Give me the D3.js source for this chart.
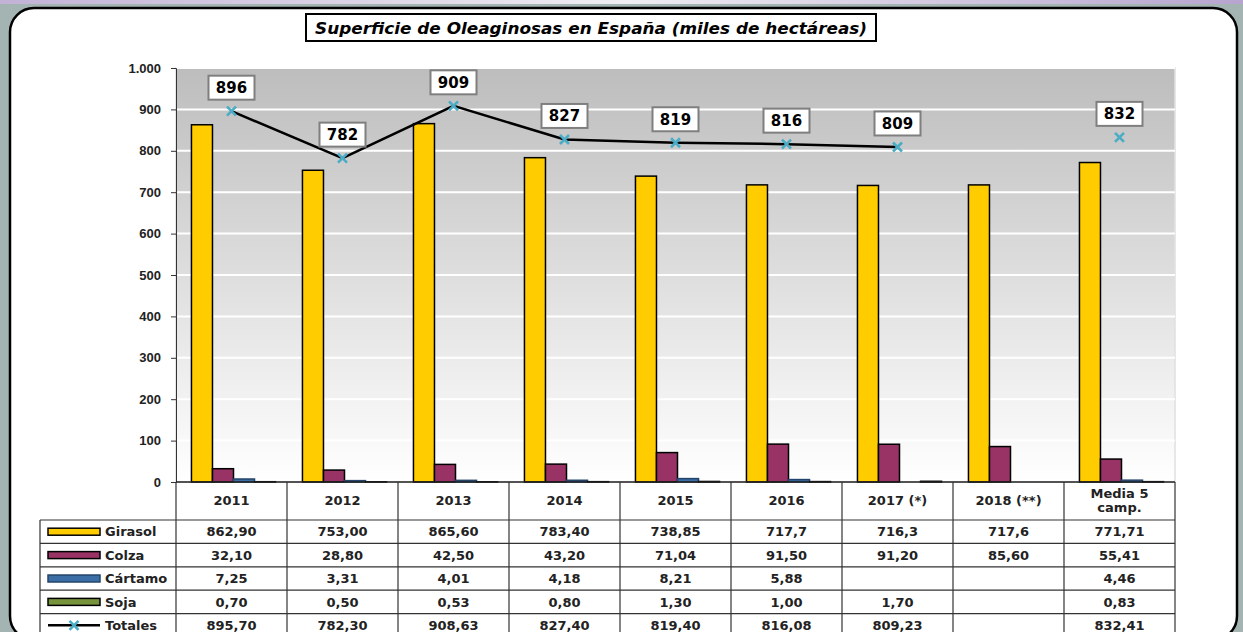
<!DOCTYPE html>
<html>
<head>
<meta charset="utf-8">
<script src="https://cdn.jsdelivr.net/npm/d3@7"></script>
<style>
  body { margin: 0; background: #a3b4b3; }
  svg { display: block; font-family: "DejaVu Sans", Verdana, sans-serif; }
</style>
</head>
<body>
<svg id="chart" width="1243" height="632"></svg>
<script>
// data as printed in the table under the chart
const categories = ['2011', '2012', '2013', '2014', '2015', '2016', '2017 (*)', '2018 (**)', 'Media 5 camp.'];
const girasol = ['862,90', '753,00', '865,60', '783,40', '738,85', '717,7', '716,3', '717,6', '771,71'];
const colza   = ['32,10', '28,80', '42,50', '43,20', '71,04', '91,50', '91,20', '85,60', '55,41'];
const cartamo = ['7,25', '3,31', '4,01', '4,18', '8,21', '5,88', '', '', '4,46'];
const soja    = ['0,70', '0,50', '0,53', '0,80', '1,30', '1,00', '1,70', '', '0,83'];
const totales = ['895,70', '782,30', '908,63', '827,40', '819,40', '816,08', '809,23', '', '832,41'];
const yTicks = [0, 100, 200, 300, 400, 500, 600, 700, 800, 900, 1000];

const barSeries = [
  { name: 'Girasol', values: girasol, color: '#ffcc00', stroke: '#000' },
  { name: 'Colza', values: colza, color: '#993366', stroke: '#000' },
  { name: 'Cártamo', values: cartamo, color: '#3a6ea5', stroke: '#24456b' },
  { name: 'Soja', values: soja, color: '#77933c', stroke: '#000' }
];

const num = s => s === '' ? null : +s.replace(',', '.');

const W = 1243, H = 632;
const svg = d3.select('#chart');
const defs = svg.append('defs');

const strip = defs.append('linearGradient').attr('id', 'strip');
strip.append('stop').attr('offset', '0%').attr('stop-color', '#c2b2d6');
strip.append('stop').attr('offset', '50%').attr('stop-color', '#efedf2');
strip.append('stop').attr('offset', '100%').attr('stop-color', '#b7a4cf');

const plotBg = defs.append('linearGradient').attr('id', 'plotBg')
  .attr('x1', 0).attr('y1', 0).attr('x2', 0).attr('y2', 1);
plotBg.append('stop').attr('offset', '0%').attr('stop-color', '#bdbdbd');
plotBg.append('stop').attr('offset', '100%').attr('stop-color', '#ffffff');

// frame
svg.append('rect').attr('width', W).attr('height', 4).attr('fill', 'url(#strip)');
svg.append('rect')
  .attr('x', 10).attr('y', 8).attr('width', 1227).attr('height', 632)
  .attr('rx', 24)
  .attr('fill', '#fff').attr('stroke', '#000').attr('stroke-width', 2.5);

// title
svg.append('rect')
  .attr('x', 306).attr('y', 14).attr('width', 570).attr('height', 27)
  .attr('fill', '#fff').attr('stroke', '#000').attr('stroke-width', 2);
svg.append('text')
  .attr('x', 591).attr('y', 33.5)
  .attr('text-anchor', 'middle')
  .attr('textLength', 552).attr('lengthAdjust', 'spacingAndGlyphs')
  .style('font-size', '15.5px').style('font-weight', 'bold').style('font-style', 'italic')
  .text('Superficie de Oleaginosas en España (miles de hectáreas)');

// scales
const x = d3.scaleBand().domain(categories).range([176, 1175]);
const xInner = d3.scaleBand().domain(barSeries.map(d => d.name))
  .range([2, x.bandwidth() + 2]).paddingOuter(0.64);
const y = d3.scaleLinear().domain([0, 1000]).range([482, 68]);

// plot area
svg.append('rect')
  .attr('x', 176).attr('y', y(1000)).attr('width', 999).attr('height', y(0) - y(1000))
  .attr('fill', 'url(#plotBg)').attr('stroke', '#e0e0e0').attr('stroke-width', 1.5);

svg.append('g').selectAll('line')
  .data(yTicks.filter(d => d > 0))
  .join('line')
  .attr('x1', 176).attr('x2', 1175)
  .attr('y1', d => y(d)).attr('y2', d => y(d))
  .attr('stroke', '#fff').attr('stroke-width', 2);

const yAxis = svg.append('g')
  .attr('transform', 'translate(176,0)')
  .call(d3.axisLeft(y).tickValues(yTicks).tickSize(5).tickPadding(10)
    .tickFormat(d => d3.format(',')(d).replace(',', '.')));
yAxis.select('.domain').attr('stroke', '#333');
yAxis.selectAll('.tick line').attr('stroke', '#333');
yAxis.selectAll('text')
  .style('font-size', '13px').style('font-weight', 'bold').attr('fill', '#222');

// bars
barSeries.forEach(s => {
  svg.append('g').selectAll('rect')
    .data(categories.map((c, i) => ({ c, v: num(s.values[i]) })).filter(d => d.v !== null))
    .join('rect')
    .attr('x', d => x(d.c) + xInner(s.name))
    .attr('y', d => y(d.v))
    .attr('width', xInner.bandwidth())
    .attr('height', d => y(0) - y(d.v))
    .attr('fill', s.color)
    .attr('stroke', s.stroke).attr('stroke-width', 1.5);
});

// x axis line
svg.append('line').attr('x1', 176).attr('x2', 1175).attr('y1', 482).attr('y2', 482)
  .attr('stroke', '#222').attr('stroke-width', 1.5);

// totals line + markers + labels
const tot = categories.map((c, i) => ({ c, v: num(totales[i]) }));
const cx = d => x(d.c) + x.bandwidth() / 2;

svg.append('path')
  .datum(tot)
  .attr('d', d3.line().defined(d => d.v !== null).x(cx).y(d => y(d.v)))
  .attr('fill', 'none').attr('stroke', '#000').attr('stroke-width', 2.5);

const starPath = 'M-4.5,-4.5L4.5,4.5M-4.5,4.5L4.5,-4.5';

svg.append('g').selectAll('path')
  .data(tot.filter(d => d.v !== null))
  .join('path')
  .attr('transform', d => `translate(${cx(d)},${y(d.v)})`)
  .attr('d', starPath)
  .attr('stroke', '#4bacc6').attr('stroke-width', 2.6);

const labels = svg.append('g').selectAll('g')
  .data(tot.filter(d => d.v !== null))
  .join('g')
  .attr('transform', d => `translate(${cx(d)},${y(d.v) - 23.5})`);
labels.append('rect')
  .attr('x', -23).attr('y', -12).attr('width', 46).attr('height', 24)
  .attr('fill', '#fff').attr('stroke', '#7f7f7f').attr('stroke-width', 2);
labels.append('text')
  .attr('text-anchor', 'middle').attr('dy', '0.36em')
  .style('font-size', '15px').style('font-weight', 'bold')
  .text(d => d3.format('.0f')(d.v));

// data table
const headerBottom = 520, rowH = 23.4;
const rows = barSeries.map(s => ({ name: s.name, values: s.values, s }))
  .concat([{ name: 'Totales', values: totales, s: null }]);
const table = svg.append('g');

// header
categories.forEach(c => {
  const lines = c === 'Media 5 camp.' ? ['Media 5', 'camp.'] : [c];
  lines.forEach((l, k) => {
    table.append('text')
      .attr('x', x(c) + x.bandwidth() / 2)
      .attr('y', 505 + (k - (lines.length - 1) / 2) * 14)
      .attr('text-anchor', 'middle')
      .style('font-size', '13px').style('font-weight', 'bold').attr('fill', '#222')
      .text(l);
  });
});

// grid of the table
const tStroke = '#333';
x.domain().concat([null]).forEach(c => {
  const xx = c === null ? 1175 : x(c);
  table.append('line').attr('x1', xx).attr('x2', xx).attr('y1', 482).attr('y2', H)
    .attr('stroke', tStroke).attr('stroke-width', 1.2);
});
table.append('line').attr('x1', 40).attr('x2', 40).attr('y1', headerBottom).attr('y2', H)
  .attr('stroke', tStroke).attr('stroke-width', 1.2);
rows.forEach((r, i) => {
  const yy = headerBottom + i * rowH;
  table.append('line').attr('x1', 40).attr('x2', 1175).attr('y1', yy).attr('y2', yy)
    .attr('stroke', tStroke).attr('stroke-width', 1.2);
});

rows.forEach((r, i) => {
  const mid = headerBottom + i * rowH + rowH / 2;
  if (r.s) {
    table.append('rect')
      .attr('x', 48).attr('y', mid - 3.5).attr('width', 52).attr('height', 7)
      .attr('fill', r.s.color).attr('stroke', r.s.stroke).attr('stroke-width', 1.5);
  } else {
    table.append('line').attr('x1', 48).attr('x2', 100).attr('y1', mid).attr('y2', mid)
      .attr('stroke', '#000').attr('stroke-width', 2.5);
    table.append('path').attr('transform', `translate(74,${mid})`).attr('d', starPath)
      .attr('stroke', '#4bacc6').attr('stroke-width', 2.6);
  }
  table.append('text')
    .attr('x', 105).attr('y', mid).attr('dy', '0.36em')
    .style('font-size', '13px').style('font-weight', 'bold').attr('fill', '#222')
    .text(r.name);
  categories.forEach((c, j) => {
    if (r.values[j] === '') return;
    table.append('text')
      .attr('x', x(c) + x.bandwidth() / 2).attr('y', mid).attr('dy', '0.36em')
      .attr('text-anchor', 'middle')
      .style('font-size', '13px').style('font-weight', 'bold').attr('fill', '#222')
      .text(r.values[j]);
  });
});
</script>
</body>
</html>
